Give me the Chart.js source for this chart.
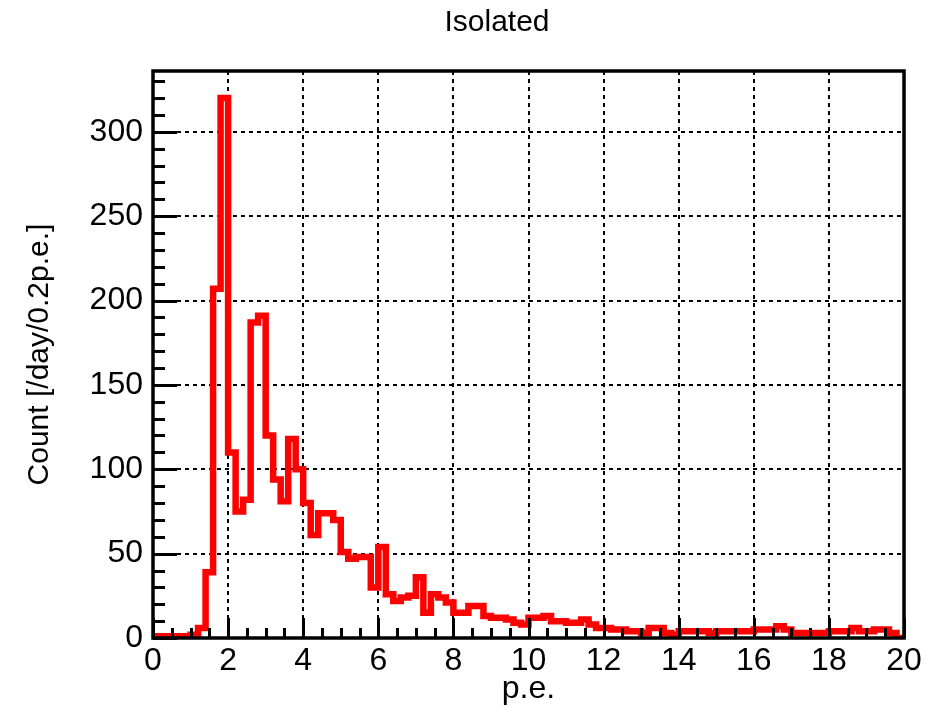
<!DOCTYPE html>
<html>
<head>
<meta charset="utf-8">
<script src="https://cdn.jsdelivr.net/npm/chart.js@4.4.0/dist/chart.umd.min.js"></script>
<style>
  html, body { margin: 0; padding: 0; background: #fff; }
  #histo { display: block; }
</style>
</head>
<body>
<canvas id="histo" width="927" height="708"></canvas>
<script>
// p.e. spectrum, 0.2 p.e. bins from 0 to 20
const binWidth = 0.2;
const binCounts = [
  1, 1, 0, 1, 1, 2, 6, 39, 207, 320,
  110, 75, 82, 187, 191, 120, 94, 81, 118, 100,
  80, 61, 74, 74, 70, 51, 47, 48, 48, 30,
  54, 26, 22, 24, 25, 36, 15, 26, 24, 21,
  15, 15, 19, 19, 13, 12, 12, 11, 9, 8,
  12, 12, 13, 10, 10, 9, 9, 11, 8, 6,
  6, 5, 5, 4, 4, 3, 6, 6, 3, 2,
  4, 4, 4, 4, 3, 4, 4, 4, 4, 4,
  5, 5, 5, 7, 5, 3, 3, 3, 3, 3,
  4, 4, 4, 6, 4, 4, 5, 5, 3, 0
];
const xTickValues = [0, 2, 4, 6, 8, 10, 12, 14, 16, 18, 20];
const yTickValues = [0, 50, 100, 150, 200, 250, 300];
const xRange = [0, 20];
const yRange = [0, 336];

const FONT = "'Liberation Sans', Arial, Helvetica, sans-serif";

// step outline: one point per left bin edge, plus the closing right edge
const histPoints = binCounts.map((c, i) => ({ x: +(i * binWidth).toFixed(1), y: c }));
histPoints.push({ x: xRange[1], y: binCounts[binCounts.length - 1] });

// ROOT-style frame with inward ticks and the top title
const rootFrame = {
  id: "rootFrame",
  afterDatasetsDraw(chart) {
    const { ctx, chartArea: a, scales } = chart;
    const xs = scales.x, ys = scales.y;
    ctx.save();
    ctx.strokeStyle = "#000";
    ctx.lineWidth = 3;
    ctx.beginPath();
    for (let v = xRange[0]; v <= xRange[1] + 1e-6; v += 0.5) {
      const px = Math.round(xs.getPixelForValue(v)) + 0.5;
      const len = Math.abs(v % 2) < 1e-6 ? 20 : 10;
      ctx.moveTo(px, a.bottom);
      ctx.lineTo(px, a.bottom - len);
    }
    for (let v = yRange[0]; v <= yRange[1]; v += 10) {
      const py = Math.round(ys.getPixelForValue(v)) + 0.5;
      const len = v % 50 === 0 ? 24 : 12;
      ctx.moveTo(a.left, py);
      ctx.lineTo(a.left + len, py);
    }
    ctx.stroke();
    ctx.lineWidth = 3.5;
    ctx.strokeRect(a.left, a.top, a.right - a.left, a.bottom - a.top);

    ctx.fillStyle = "#000";
    ctx.font = "30px " + FONT;
    ctx.textAlign = "center";
    ctx.textBaseline = "middle";
    ctx.fillText("Isolated", 497, 23);
    ctx.restore();
  }
};

new Chart(document.getElementById("histo"), {
  type: "line",
  data: {
    datasets: [{
      label: "Isolated",
      data: histPoints,
      // hold each bin's count until the next edge
      stepped: "before",
      borderColor: "#ff0000",
      borderWidth: 6.5,
      pointRadius: 0,
      fill: false
    }]
  },
  options: {
    responsive: false,
    animation: false,
    devicePixelRatio: 1,
    layout: { padding: { top: 71, right: 23, left: 0, bottom: 0 } },
    plugins: { legend: { display: false }, tooltip: { enabled: false } },
    scales: {
      x: {
        type: "linear",
        min: xRange[0],
        max: xRange[1],
        afterBuildTicks: s => { s.ticks = xTickValues.map(v => ({ value: v })); },
        afterFit: s => { s.height = 70; },
        ticks: { color: "#000", font: { family: FONT, size: 32 }, padding: 4, maxRotation: 0, autoSkip: false },
        grid: { color: "#000", lineWidth: 2, drawTicks: false },
        border: { display: false, dash: [4, 4] },
        title: { display: true, text: "p.e.", color: "#000", font: { family: FONT, size: 32 }, padding: { top: 0, bottom: 0 } }
      },
      y: {
        min: yRange[0],
        max: yRange[1],
        afterBuildTicks: s => { s.ticks = yTickValues.map(v => ({ value: v })); },
        afterFit: s => { s.width = 153; },
        ticks: { color: "#000", font: { family: FONT, size: 32 }, padding: 10 },
        grid: { color: "#000", lineWidth: 2, drawTicks: false },
        border: { display: false, dash: [4, 4] },
        title: { display: true, text: "Count [/day/0.2p.e.]", color: "#000", font: { family: FONT, size: 30 }, padding: { top: 22, bottom: 0 } }
      }
    }
  },
  plugins: [rootFrame]
});
</script>
</body>
</html>
